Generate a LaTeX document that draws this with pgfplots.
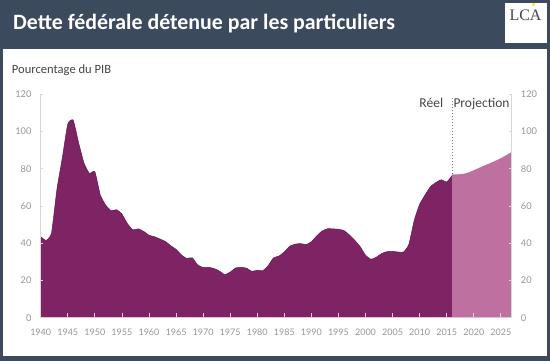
\documentclass[border=0pt]{standalone}
\usepackage{pgfplots}
\pgfplotsset{compat=1.18}
\usepackage{fontspec}
\setmainfont{Carlito}
\newfontfamily\lato{Lato}
\newfontfamily\lserif{Liberation Serif}
\definecolor{slate}{RGB}{60,74,93}
\definecolor{darkp}{RGB}{126,35,100}
\definecolor{lightp}{RGB}{190,113,160}
\definecolor{tickgray}{RGB}{150,150,150}
\definecolor{axgray}{RGB}{215,215,215}
\definecolor{txtgray}{RGB}{70,70,70}
\pgfplotstableread{
year val
1940 43.5
1941 41.5
1942 45.5
1943 69.0
1944 86.0
1945 104.0
1946 106.1
1947 94.0
1948 83.0
1949 77.5
1950 78.5
1951 66.0
1952 60.5
1953 57.5
1954 58.0
1955 55.7
1956 50.6
1957 47.2
1958 47.7
1959 46.4
1960 44.3
1961 43.5
1962 42.3
1963 41.0
1964 38.7
1965 36.7
1966 33.7
1967 31.8
1968 32.2
1969 28.3
1970 27.0
1971 27.1
1972 26.4
1973 25.1
1974 23.1
1975 24.5
1976 26.7
1977 27.1
1978 26.6
1979 24.9
1980 25.5
1981 25.2
1982 27.9
1983 32.1
1984 33.1
1985 35.3
1986 38.4
1987 39.5
1988 39.8
1989 39.3
1990 40.8
1991 44.0
1992 46.6
1993 47.8
1994 47.7
1995 47.5
1996 46.8
1997 44.5
1998 41.6
1999 38.2
2000 33.6
2001 31.4
2002 32.5
2003 34.5
2004 35.5
2005 35.6
2006 35.3
2007 35.2
2008 39.3
2009 52.3
2010 60.9
2011 65.9
2012 70.4
2013 72.6
2014 74.1
2015 72.9
2016 76.4
}\reel
\pgfplotstableread{
year val
2016 77.0
2017 77.0
2018 77.2
2019 78.0
2020 79.2
2021 80.5
2022 81.8
2023 83.0
2024 84.3
2025 85.7
2026 87.3
2027 89.0
}\proj
\begin{document}
\begin{tikzpicture}[x=1pt,y=1pt]
\path[use as bounding box] (0,0) rectangle (550,361);
\fill[slate] (0,0) rectangle (550,361);
\fill[white] (3,5) rectangle (547,312);
\fill[white] (504.5,317.7) rectangle (547,357.7);
\node[anchor=base west, inner sep=0, text=white] at (13,331) {\resizebox{382pt}{!}{\bfseries Dette fédérale détenue par les particuliers}};
\node[anchor=base west, inner sep=0, text=txtgray] at (509.3,340.3) {\lserif\fontsize{16}{18}\selectfont LCA};
\fill[yellow!90!orange] (533.5,356.5) circle (1.6);
\node[anchor=base west, inner sep=0, text=txtgray] at (11.7,287.7) {\resizebox{99.3pt}{!}{Pourcentage du PIB}};
\node[anchor=base east, inner sep=0, text=txtgray] at (443.3,253.3) {\fontsize{13.5}{15}\selectfont Réel};
\node[anchor=base west, inner sep=0, text=txtgray] at (453.3,253.3) {\fontsize{13.5}{15}\selectfont Projection};
\begin{axis}[at={(40.7pt,43.3pt)}, anchor=south west, scale only axis,
  width=471pt, height=223.4pt,
  xmin=1940, xmax=2027, ymin=0, ymax=120,
  axis x line*=bottom, axis y line*=left,
  axis line style={-},
  x axis line style={draw=lightp!45, line width=0.8pt},
  y axis line style={draw=axgray, line width=0.6pt},
  xtick={1940,1945,...,2025},
  ytick={0,20,...,120},
  tick align=inside,
  major tick length=5pt,
  x tick style={draw=white!65!lightp, line width=0.8pt},
  y tick style={draw=none},
  /pgf/number format/1000 sep={},
  /pgf/number format/assume math mode=true,
  xticklabel style={font=\lato\fontsize{9}{10}\selectfont, text=tickgray, inner sep=0pt, anchor=north, yshift=-11.5pt},
  yticklabel style={font=\lato\fontsize{9.3}{10}\selectfont, text=tickgray, inner sep=0pt, anchor=east, xshift=-9pt},
  axis on top,
  clip=false]
\addplot[fill=darkp, draw=none, smooth, tension=0.3] table[x=year,y=val] {\reel} \closedcycle;
\addplot[fill=lightp, draw=none, smooth, tension=0.3] table[x=year,y=val] {\proj} \closedcycle;
\addplot[draw=darkp!80!black, line width=0.5pt, smooth, tension=0.3] table[x=year,y=val] {\reel};
\draw[txtgray!70, line width=0.5pt, dash pattern=on 1.5pt off 1.5pt] (axis cs:2016,77) -- (axis cs:2016,118);
\end{axis}
\begin{axis}[at={(40.7pt,43.3pt)}, anchor=south west, scale only axis,
  width=471pt, height=223.4pt,
  xmin=1940, xmax=2027, ymin=0, ymax=120,
  axis x line=none, axis y line*=box,
  axis line style={-, draw=axgray, line width=0.6pt},
  ytick={0,20,...,120},
  yticklabel pos=right,
  tick align=inside,
  major tick length=2.5pt,
  y tick style={draw=axgray, line width=0.6pt},
  /pgf/number format/assume math mode=true,
  yticklabel style={font=\lato\fontsize{9.3}{10}\selectfont, text=tickgray, inner sep=0pt, anchor=west, xshift=9pt}]
\addplot[draw=none] coordinates {(1940,0) (2027,0)};
\end{axis}
\end{tikzpicture}
\end{document}
